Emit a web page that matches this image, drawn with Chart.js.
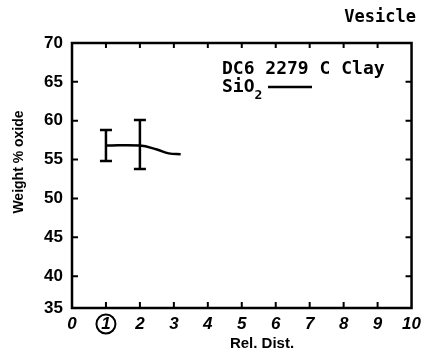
<!DOCTYPE html>
<html>
<head>
<meta charset="utf-8">
<script src="https://cdn.jsdelivr.net/npm/chart.js@4"></script>
<style>body{margin:0;background:#fff}</style>
</head>
<body>
<canvas id="c" width="427" height="354"></canvas>
<script>
// DATA
const xTicks = [0,1,2,3,4,5,6,7,8,9,10];
const yTicks = [35,40,45,50,55,60,65,70];
const yMin = 35.9, yMax = 70;

// SiO2 profile
const lineX = [1, 2, 2.5, 2.85, 3.2];
const lineY = [56.8, 56.8, 56.3, 55.8, 55.7];

// error bars
const errX = [1, 2];
const errLow = [54.8, 53.8];
const errHigh = [58.8, 60.1];

const sampleName = "DC6 2279 C Clay";
const panelTitle = "Vesicle";
const circledTick = 1;

const mono = "'DejaVu Sans Mono', monospace";
const sans = "'Liberation Sans', Arial, sans-serif";

// frame, inward ticks, error bars, labels
const extras = {
    id: "extras",
    afterDatasetsDraw(chart) {
        const ctx = chart.ctx;
        const a = chart.chartArea;
        const xs = chart.scales.x, ys = chart.scales.y;
        ctx.save();
        ctx.strokeStyle = "#000";
        ctx.fillStyle = "#000";

        // frame
        ctx.lineWidth = 2.5;
        ctx.strokeRect(a.left, a.top, a.right - a.left, a.bottom - a.top);

        // inward ticks
        ctx.lineWidth = 2;
        xTicks.slice(1, -1).forEach(v => {
            const px = xs.getPixelForValue(v);
            ctx.beginPath();
            ctx.moveTo(px, a.bottom); ctx.lineTo(px, a.bottom - 6);
            ctx.moveTo(px, a.top); ctx.lineTo(px, a.top + 5);
            ctx.stroke();
        });
        yTicks.slice(1, -1).forEach(v => {
            const py = ys.getPixelForValue(v);
            ctx.beginPath();
            ctx.moveTo(a.left, py); ctx.lineTo(a.left + 6, py);
            ctx.moveTo(a.right, py); ctx.lineTo(a.right - 6, py);
            ctx.stroke();
        });

        // error bars
        ctx.lineWidth = 2.5;
        errX.forEach((v, i) => {
            const px = xs.getPixelForValue(v);
            const lo = ys.getPixelForValue(errLow[i]);
            const hi = ys.getPixelForValue(errHigh[i]);
            ctx.beginPath();
            ctx.moveTo(px, lo); ctx.lineTo(px, hi);
            ctx.moveTo(px - 6, lo); ctx.lineTo(px + 6, lo);
            ctx.moveTo(px - 6, hi); ctx.lineTo(px + 6, hi);
            ctx.stroke();
        });

        // circle around tick label
        ctx.lineWidth = 2;
        ctx.beginPath();
        ctx.arc(xs.getPixelForValue(circledTick), a.bottom + 16, 9.5, 0, Math.PI * 2);
        ctx.stroke();

        // axis titles
        ctx.font = "bold 15px " + sans;
        ctx.textAlign = "center";
        ctx.textBaseline = "middle";
        ctx.fillText("Rel. Dist.", 262, 344);
        ctx.save();
        ctx.translate(19, 162);
        ctx.rotate(-Math.PI / 2);
        ctx.font = "bold 14px " + sans;
        ctx.fillText("Weight % oxide", 0, 0);
        ctx.restore();

        // panel title
        ctx.font = "bold 17px " + mono;
        ctx.textAlign = "right";
        ctx.fillText(panelTitle, 416, 18);

        // legend
        ctx.textAlign = "left";
        ctx.font = "bold 18px " + mono;
        ctx.fillText(sampleName, 222, 69);
        ctx.fillText("SiO", 222, 87);
        const w = ctx.measureText("SiO").width;
        ctx.font = "bold 13px " + mono;
        ctx.fillText("2", 222 + w, 96);
        ctx.lineWidth = 2.5;
        ctx.beginPath();
        ctx.moveTo(268, 87); ctx.lineTo(312, 87);
        ctx.stroke();

        ctx.restore();
    }
};

new Chart(document.getElementById("c"), {
    type: "scatter",
    data: {
        datasets: [{
            data: lineX.map((x, i) => ({x: x, y: lineY[i]})),
            showLine: true,
            borderColor: "#000",
            borderWidth: 2.5,
            pointRadius: 0,
            tension: 0.4
        }]
    },
    options: {
        responsive: false,
        animation: false,
        layout: {padding: {top: 43, right: 12, left: 0, bottom: 0}},
        plugins: {legend: {display: false}, tooltip: {enabled: false}},
        scales: {
            x: {
                type: "linear", min: 0, max: 10,
                afterBuildTicks: s => { s.ticks = xTicks.map(v => ({value: v})); },
                afterFit: s => { s.height = 46; },
                grid: {drawOnChartArea: false, drawTicks: false},
                border: {display: false},
                ticks: {color: "#000", padding: 6, font: {family: sans, size: 17, weight: "bold", style: "italic"}}
            },
            y: {
                type: "linear", min: yMin, max: yMax,
                afterBuildTicks: s => { s.ticks = yTicks.map(v => ({value: Math.max(v, yMin)})); },
                afterFit: s => { s.width = 72; },
                grid: {drawOnChartArea: false, drawTicks: false},
                border: {display: false},
                ticks: {
                    color: "#000", padding: 9,
                    font: {family: sans, size: 17, weight: "bold"},
                    callback: (v, i) => String(yTicks[i])
                }
            }
        }
    },
    plugins: [extras]
});
</script>
</body>
</html>
